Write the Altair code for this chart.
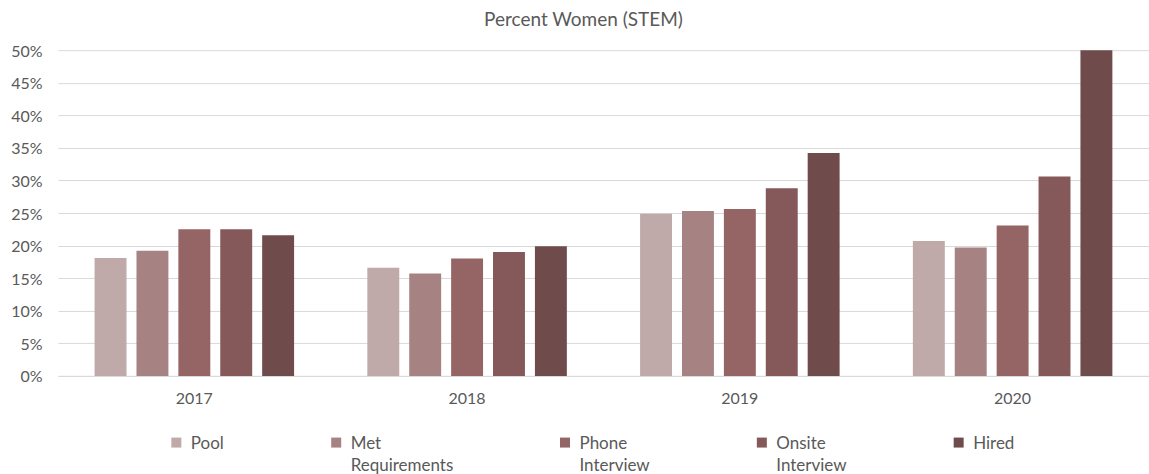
import altair as alt
import pandas as pd

years = ["2017", "2018", "2019", "2020"]
stages = ["Pool", "Met Requirements", "Phone Interview", "Onsite Interview", "Hired"]
pool = [18.1, 16.6, 24.9, 20.7]
met_requirements = [19.2, 15.7, 25.3, 19.7]
phone_interview = [22.5, 18.0, 25.6, 23.1]
onsite_interview = [22.5, 19.0, 28.8, 30.6]
hired = [21.6, 19.9, 34.2, 50.0]
colors = ["#bfa9a9", "#a78282", "#956565", "#855859", "#704b4b"]
y_ticks = [0, 5, 10, 15, 20, 25, 30, 35, 40, 45, 50]

series = [pool, met_requirements, phone_interview, onsite_interview, hired]
rows = []
for stage, vals in zip(stages, series):
    for yr, v in zip(years, vals):
        rows.append({"Year": yr, "Stage": stage, "Value": v})
df = pd.DataFrame(rows)

FONT = "Lato"
TXT = "#595959"
GRID = "#d9d9d9"

chart = alt.Chart(df).mark_bar().encode(
    x=alt.X("Year:N", sort=years,
            scale=alt.Scale(paddingInner=0.232, paddingOuter=0.116),
            axis=alt.Axis(title=None, labelAngle=0, ticks=False, domainColor=GRID,
                          labelPadding=22, labelFontSize=16, labelColor=TXT, labelFont=FONT)),
    xOffset=alt.XOffset("Stage:N", sort=stages,
                        scale=alt.Scale(paddingInner=0.238, paddingOuter=0.119)),
    y=alt.Y("Value:Q", scale=alt.Scale(domain=[0, 50]),
            axis=alt.Axis(values=y_ticks, labelExpr="datum.value + '%'", title=None,
                          domain=False, ticks=False, gridColor=GRID, minExtent=50, maxExtent=50,
                          labelBaseline="top",
                          labelPadding=16, labelFontSize=16, labelColor=TXT, labelFont=FONT)),
    color=alt.Color("Stage:N", sort=stages,
                    scale=alt.Scale(domain=stages, range=colors),
                    legend=alt.Legend(title=None, orient="none", legendX=110, legendY=384,
                                      direction="horizontal", columns=5, gridAlign="each",
                                      symbolType="square", symbolSize=100, symbolStrokeWidth=0,
                                      labelFontSize=17, labelColor=TXT, labelFont=FONT,
                                      labelBaseline="top",
                                      labelOffset=6, columnPadding=103, padding=0,
                                      labelLimit=250,
                                      labelExpr="indexof(datum.label, ' ') > 0 ? split(datum.label, ' ') : [datum.label, '']")),
).properties(
    width=1092, height=326,
    title=alt.TitleParams("Percent Women (STEM)", fontSize=19, color=TXT, font=FONT,
                          fontWeight="normal", anchor="middle", dx=-20, offset=13),
    padding={"left": 8, "top": 11, "right": 0, "bottom": 0},
).configure(
    style={"guide-label": {"lineHeight": 22, "dy": -7}}
).configure_view(stroke=None)

chart.save("out.html", embed_options={"renderer": "svg", "actions": False})
